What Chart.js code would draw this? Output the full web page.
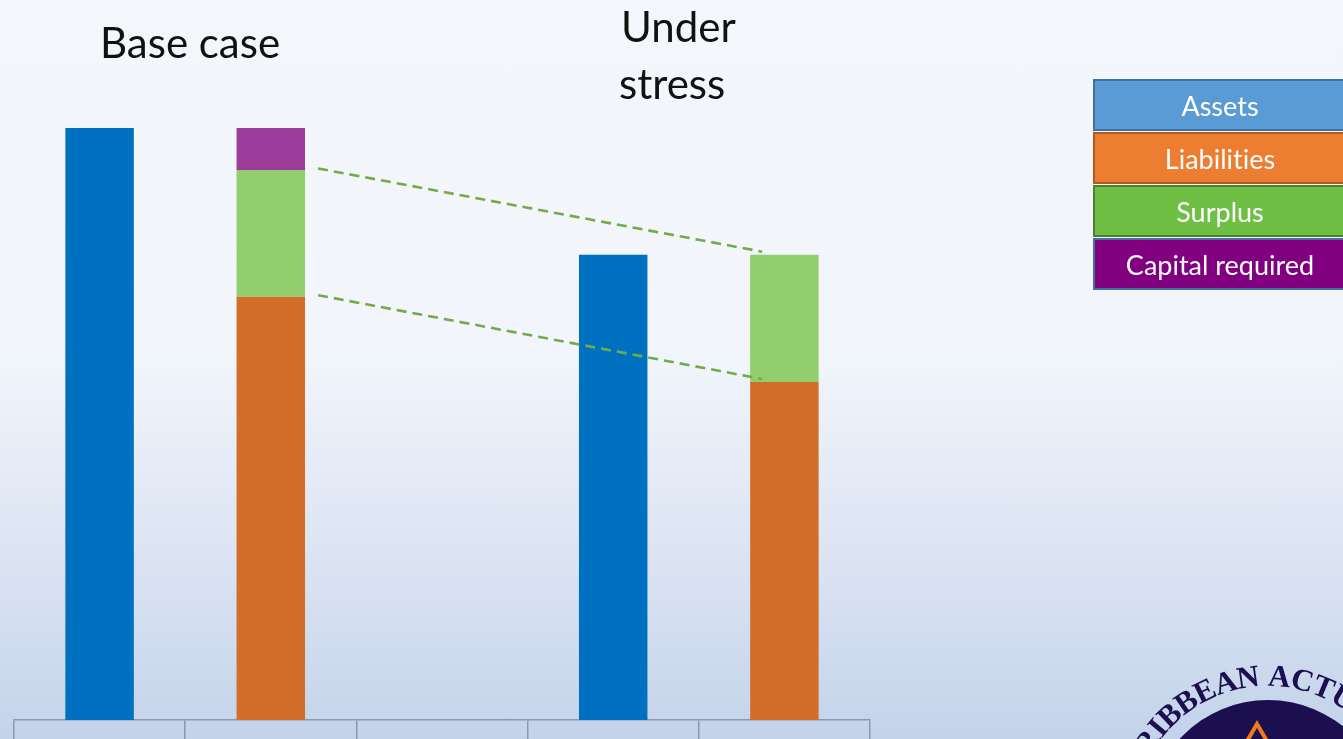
<!DOCTYPE html>
<html>
<head>
<meta charset="utf-8">
<script src="https://cdn.jsdelivr.net/npm/chart.js@4.4.1/dist/chart.umd.min.js"></script>
<style>
  html, body { margin: 0; padding: 0; }
  body {
    width: 1343px; height: 739px; overflow: hidden; position: relative;
    background: linear-gradient(to bottom, #F3F7FB 0%, #F2F6FC 47%, #DCE4F3 75%, #C3D3EA 100%);
    font-family: Lato, "Open Sans", sans-serif;
  }
  #chart { position: absolute; left: 0; top: 0; }
  #legend { position: absolute; left: 1093px; top: 79px; width: 262px; }
  .key {
    box-sizing: border-box; height: 52px; margin-bottom: 1px;
    border: 2px solid; color: #fff; font-size: 27px;
    font-variant-ligatures: none;
    display: flex; align-items: center; justify-content: center;
    padding-right: 8px;
  }
</style>
</head>
<body>
<canvas id="chart" width="1343" height="739"></canvas>
<div id="legend"></div>
<script>
// Balance sheet, base case vs. under stress
const categories = ['Assets (base)', 'Liabilities and capital (base)', '', 'Assets (stress)', 'Liabilities and surplus (stress)'];
const assets      = [100,  null, null, 78.6, null];
const liabilities = [null, 71.5, null, null, 57.1];
const surplus     = [null, 21.4, null, null, 21.5];
const capital     = [null, 7.1,  null, null, null];

const seriesNames = ['Assets', 'Liabilities', 'Surplus', 'Capital required'];
const barColors   = ['#0070C0', '#D26D2A', '#93CE6E', '#9E3C9C'];
const keyFill     = ['#5B9BD5', '#ED7D31', '#6FBF44', '#800080'];
const keyBorder   = ['#41719C', '#AE5A21', '#507E32', '#41719C'];

// key boxes on the right
const legend = document.getElementById('legend');
seriesNames.forEach((name, i) => {
    const d = document.createElement('div');
    d.className = 'key';
    d.style.background = keyFill[i];
    d.style.borderColor = keyBorder[i];
    d.textContent = name;
    legend.appendChild(d);
});

// headings, dashed surplus guides and the logo corner
const decorations = {
    id: 'decorations',
    afterDatasetsDraw(chart) {
        const ctx = chart.ctx;
        const y = chart.scales.y;
        const base = chart.getDatasetMeta(1).data[1];
        const stress = chart.getDatasetMeta(1).data[4];

        // dashed lines following the surplus band from base to stress
        const bounds = [
            [liabilities[1] + surplus[1], liabilities[4] + surplus[4]],
            [liabilities[1], liabilities[4]]
        ];
        ctx.save();
        ctx.strokeStyle = '#70AD47';
        ctx.lineWidth = 2.6;
        ctx.setLineDash([10, 6]);
        bounds.forEach(([from, to]) => {
            const x0 = base.x + base.width / 2, y0 = y.getPixelForValue(from) - 4;
            const x1 = stress.x - stress.width / 2 + 12, y1 = y.getPixelForValue(to) - 3;
            const t = 13 / (x1 - x0);
            ctx.beginPath();
            ctx.moveTo(x0 + (x1 - x0) * t, y0 + (y1 - y0) * t);
            ctx.lineTo(x1, y1);
            ctx.stroke();
        });
        ctx.restore();
    },
    afterDraw(chart) {
        const ctx = chart.ctx;
        ctx.save();
        ctx.fillStyle = '#111';
        ctx.font = '42px Lato, "Open Sans", sans-serif';
        ctx.textBaseline = 'alphabetic';
        ctx.fillText('Base case', 100, 58);
        ctx.fillText('Under', 621, 42);
        ctx.fillText('stress', 619, 99);

        // association logo, partly off the page
        const cx = 1268, cy = 820;
        ctx.fillStyle = '#1B0F4F';
        ctx.beginPath();
        ctx.arc(cx, cy, 120, 0, Math.PI * 2);
        ctx.fill();
        ctx.strokeStyle = '#F07A1E';
        ctx.lineWidth = 4;
        ctx.beginPath();
        ctx.moveTo(1243, 748);
        ctx.lineTo(1257, 724);
        ctx.lineTo(1271, 748);
        ctx.stroke();

        const ring = 'CARIBBEAN ACTUARIAL ASSOCIATION';
        ctx.font = 'bold 31px "Liberation Serif", serif';
        ctx.fillStyle = '#1B0F4F';
        ctx.textAlign = 'center';
        ctx.textBaseline = 'middle';
        const r = 142, gap = 0.5;
        const widths = [...ring].map(c => ctx.measureText(c).width + gap);
        let arc = 0;
        const centres = widths.map(w => { const c = arc + w / 2; arc += w; return c; });
        const start = -50 * Math.PI / 180 - centres[3] / r;
        [...ring].forEach((c, i) => {
            const a = start + centres[i] / r;
            ctx.save();
            ctx.translate(cx + r * Math.sin(a), cy - r * Math.cos(a));
            ctx.rotate(a);
            ctx.fillText(c, 0, 0);
            ctx.restore();
        });
        ctx.restore();
    }
};

const series = [assets, liabilities, surplus, capital];
new Chart(document.getElementById('chart'), {
    type: 'bar',
    data: {
        labels: categories,
        datasets: series.map((data, i) => ({
            label: seriesNames[i],
            data: data,
            backgroundColor: barColors[i],
            borderWidth: 0,
            barPercentage: 0.4,
            categoryPercentage: 1.0
        }))
    },
    options: {
        responsive: false,
        animation: false,
        layout: { padding: { left: 14, right: 473, top: 128, bottom: 0 } },
        plugins: {
            legend: { display: false },
            tooltip: { enabled: false }
        },
        scales: {
            x: {
                stacked: true,
                ticks: { display: false },
                grid: {
                    drawOnChartArea: false,
                    tickLength: 19,
                    color: '#8E99A8',
                    lineWidth: 1.5
                },
                border: { color: '#8E99A8', width: 1.5 }
            },
            y: {
                stacked: true,
                display: false,
                min: 0,
                max: 100
            }
        }
    },
    plugins: [decorations]
});
</script>
</body>
</html>
